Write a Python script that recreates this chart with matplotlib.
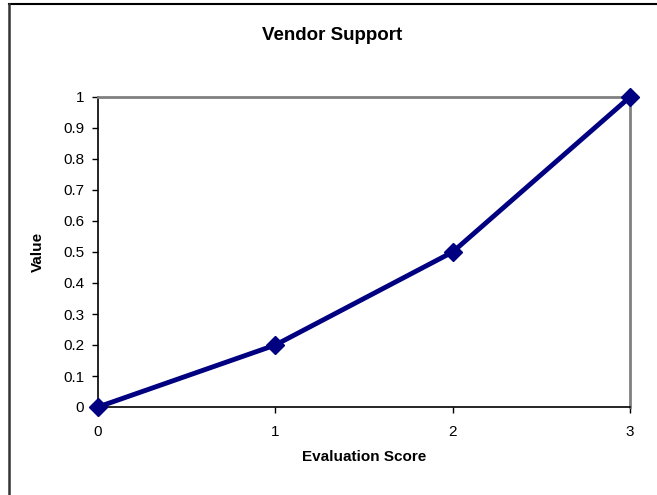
import matplotlib
matplotlib.use("Agg")
import matplotlib.pyplot as plt
from matplotlib.lines import Line2D

plt.rcParams['font.family'] = ['Liberation Sans', 'DejaVu Sans']

# data
scores = [0, 1, 2, 3]
values = [0, 0.2, 0.5, 1.0]
y_ticks = [0, 0.1, 0.2, 0.3, 0.4, 0.5, 0.6, 0.7, 0.8, 0.9, 1]
y_labels = ['0', '0.1', '0.2', '0.3', '0.4', '0.5', '0.6', '0.7', '0.8', '0.9', '1']

fig = plt.figure(figsize=(6.57, 4.95), dpi=100)
ax = fig.add_axes([98 / 657, 1 - 407 / 495, 532 / 657, 310 / 495])

ax.plot(scores, values, color='#000080', lw=3.5, marker='D', ms=9,
        clip_on=False, zorder=5)

ax.set_xlim(0, 3)
ax.set_ylim(0, 1)
ax.set_xticks(scores)
ax.set_yticks(y_ticks)
ax.set_yticklabels(y_labels)
ax.tick_params(labelsize=11, length=4, width=1)
ax.tick_params(axis='x', pad=9)
ax.tick_params(axis='y', pad=6)

for s in ['top', 'right']:
    ax.spines[s].set_color('#808080')
    ax.spines[s].set_linewidth(2)
for s in ['left', 'bottom']:
    ax.spines[s].set_color('black')
    ax.spines[s].set_linewidth(1.2)

ax.set_xlabel('Evaluation Score', fontsize=11, fontweight='bold', labelpad=8)
ax.set_ylabel('Value', fontsize=11, fontweight='bold', labelpad=13)
fig.text(0.505, 1 - 35 / 495, 'Vendor Support', ha='center', va='center',
         fontsize=13.5, fontweight='bold')

# outer chart border (top and left only visible)
fig.add_artist(Line2D([9 / 657, 1], [1 - 4 / 495, 1 - 4 / 495], color='black', lw=1.5,
                      transform=fig.transFigure))
fig.add_artist(Line2D([9 / 657, 9 / 657], [0, 1 - 4 / 495], color='#333333', lw=1.8,
                      transform=fig.transFigure))

fig.savefig('out.png', dpi=100)
